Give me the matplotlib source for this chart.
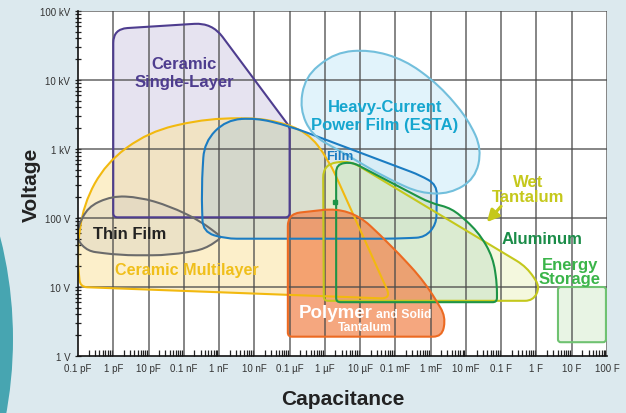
import numpy as np
import matplotlib
matplotlib.use("Agg")
import matplotlib.pyplot as plt
from matplotlib.path import Path
from matplotlib.patches import PathPatch, Circle
from matplotlib.transforms import IdentityTransform

# ---------------- axis ticks ----------------
cap_ticks = 10.0 ** np.arange(-13, 3)
cap_labels = ['0.1 pF', '1 pF', '10 pF', '0.1 nF', '1 nF', '10 nF', '0.1 µF', '1 µF',
              '10 µF', '0.1 mF', '1 mF', '10 mF', '0.1 F', '1 F', '10 F', '100 F']
volt_ticks = 10.0 ** np.arange(0, 6)
volt_labels = ['1 V', '10 V', '100 V', '1 kV', '10 kV', '100 kV']

# ---------------- regions: log10(capacitance / F), log10(voltage / V) ----------------
single_layer_c = [-12.0, -12.0, -9.2, -7.0, -7.0]
single_layer_v = [2.01, 4.74, 4.83, 3.32, 2.01]

multilayer_c = [-12.94, -13.03, -12.85, -12.2, -11.0, -9.3, -7.6, -6.5, -5.9, -4.12]
multilayer_v = [1.0, 1.5, 2.2, 2.8, 3.25, 3.45, 3.44, 3.25, 2.85, 0.83]

thin_film_c = [-13.0, -12.72, -12.04, -11.24, -10.39, -9.54, -8.92, -9.40, -10.39, -11.81, -12.72, -13.02]
thin_film_v = [1.87, 2.16, 2.32, 2.30, 2.17, 1.96, 1.72, 1.55, 1.46, 1.46, 1.52, 1.68]

film_c = [-9.50, -9.42, -8.80, -7.95, -6.99, -3.30, -2.82, -2.84, -3.16, -4.01, -8.83, -9.46]
film_v = [2.42, 3.10, 3.42, 3.45, 3.33, 2.62, 2.48, 1.91, 1.72, 1.70, 1.70, 1.80]

esta_c = [-6.71, -6.56, -5.71, -4.72, -3.73, -2.74, -1.94, -1.55, -1.74, -2.45, -3.30, -4.30, -5.43, -6.37]
esta_v = [3.58, 4.05, 4.40, 4.44, 4.29, 3.92, 3.43, 3.00, 2.57, 2.35, 2.36, 2.59, 2.93, 3.20]

wet_tant_c = [-6.05, -5.29, -0.27, 0.10, -0.10, -6.03]
wet_tant_v = [2.78, 2.83, 1.29, 1.00, 0.80, 0.80]

aluminum_c = [-5.68, -5.23, -3.02, -2.40, -1.66, -1.23, -1.12, -1.12, -5.68]
aluminum_v = [2.78, 2.81, 2.22, 2.14, 1.81, 1.43, 1.04, 0.78, 0.78]

polymer_c = [-7.05, -5.29, -4.15, -3.16, -2.57, -2.68, -7.05]
polymer_v = [2.06, 2.16, 1.62, 1.07, 0.57, 0.28, 0.28]

energy_c = [0.61, 1.97, 1.97, 0.61]
energy_v = [1.00, 1.00, 0.20, 0.20]

# ---------------- styling (corner rounding, colours) ----------------
K = 1.96  # display aspect of one voltage decade vs. one capacitance decade
R = 9.0   # "fully smooth"
single_layer_r = [0.12, 0.4, 0.5, 0.1, 0.12]
multilayer_r = [0.2, R, R, R, R, R, R, R, 0.6, 0.3]
thin_film_r = [R, R, R, R, R, R, 0.15, R, R, R, R, R]
film_r = [R, R, R, R, 0.6, 0.4, 0.5, R, R, R, 0.5, 0.5]
esta_r = [R] * len(esta_c)
wet_tant_r = [0.4, 0.3, 0.35, 0.3, 0.3, 0.12]
aluminum_r = [0.25, 0.2, 0.3, 0.3, R, R, 0.3, 0.12, 0.12]
polymer_r = [0.35, R, R, R, 0.4, 0.25, 0.12]
energy_r = [0.08] * 4


def region_path(lc, lv, radii):
    P = np.column_stack([np.asarray(lc, float), np.asarray(lv, float) * K])
    n = len(P)
    verts, codes = [], []
    for i in range(n):
        p0, p1, p2 = P[i - 1], P[i], P[(i + 1) % n]
        d0, d2 = p0 - p1, p2 - p1
        l0, l2 = np.hypot(*d0), np.hypot(*d2)
        rr = min(radii[i], l0 / 2, l2 / 2)
        a = p1 + d0 / l0 * rr
        b = p1 + d2 / l2 * rr
        verts.append(a)
        codes.append(Path.MOVETO if i == 0 else Path.LINETO)
        verts += [p1, b]
        codes += [Path.CURVE3, Path.CURVE3]
    verts.append(verts[0])
    codes.append(Path.CLOSEPOLY)
    V = np.array(verts)
    V[:, 0] = 10 ** V[:, 0]
    V[:, 1] = 10 ** (V[:, 1] / K)
    return Path(V, codes)


regions = [
    (single_layer_c, single_layer_v, single_layer_r, '#4e3d8f', '#c8c2de', 0.45),
    (multilayer_c, multilayer_v, multilayer_r, '#f2b90f', '#fbe3a0', 0.55),
    (thin_film_c, thin_film_v, thin_film_r, '#6b6b6b', '#cfcac0', 0.35),
    (film_c, film_v, film_r, '#1b7cc2', '#a9c6d6', 0.4),
    (esta_c, esta_v, esta_r, '#72bfdc', '#d8effa', 0.75),
    (wet_tant_c, wet_tant_v, wet_tant_r, '#c4c81c', '#eef4c8', 0.6),
    (aluminum_c, aluminum_v, aluminum_r, '#1d9447', '#c7e2c8', 0.55),
    (polymer_c, polymer_v, polymer_r, '#ec6a22', '#f2854e', 0.72),
    (energy_c, energy_v, energy_r, '#6fc271', '#e6f3e2', 0.9),
]

# ---------------- figure ----------------
fig = plt.figure(figsize=(6.26, 4.14), dpi=100)
fig.patch.set_facecolor('#dce9ee')
fig.add_artist(Circle((-401.5, 74), 414.5, transform=IdentityTransform(),
                      facecolor='#47a5b1', edgecolor='none', zorder=0))

ax = fig.add_axes([78 / 626, 1 - 357 / 414, (607 - 78) / 626, (357 - 12) / 414])
ax.set_facecolor('white')
ax.set_xscale('log')
ax.set_yscale('log')
ax.set_xlim(1e-13, 1e2)
ax.set_ylim(1, 1e5)

for lc, lv, rad, ec, fc, al in regions:
    p = region_path(lc, lv, rad)
    ax.add_patch(PathPatch(p, facecolor=fc, edgecolor='none', alpha=al, zorder=1))
    ax.add_patch(PathPatch(p, facecolor='none', edgecolor=ec, lw=1.5, zorder=3))

# grid
for xv in cap_ticks[1:]:
    ax.axvline(xv, color='#4a4a4a', lw=1.1, zorder=2, alpha=0.85)
for yv in volt_ticks[1:]:
    ax.axhline(yv, color='#4a4a4a', lw=1.1, zorder=2, alpha=0.85)

for s in ['top', 'right']:
    ax.spines[s].set_visible(False)
for s in ['left', 'bottom']:
    ax.spines[s].set_color('#111111')
    ax.spines[s].set_linewidth(1.2)
    ax.spines[s].set_zorder(4)

tick_font = ['Liberation Sans Narrow', 'Liberation Sans', 'DejaVu Sans']
ax.set_xticks(cap_ticks)
ax.set_xticklabels(cap_labels, family=tick_font, fontsize=7, color='#333333')
ax.set_yticks(volt_ticks)
ax.set_yticklabels(volt_labels, family=tick_font, fontsize=7, color='#333333')
ax.xaxis.set_minor_locator(matplotlib.ticker.LogLocator(base=10, subs=np.arange(2, 10), numticks=30))
ax.yaxis.set_minor_locator(matplotlib.ticker.LogLocator(base=10, subs=np.arange(2, 10), numticks=30))
ax.xaxis.set_minor_formatter(matplotlib.ticker.NullFormatter())
ax.yaxis.set_minor_formatter(matplotlib.ticker.NullFormatter())
ax.tick_params(axis='x', which='major', length=0, pad=5)
ax.tick_params(axis='x', which='minor', direction='in', length=4, width=0.9, color='#222')
ax.tick_params(axis='y', which='major', direction='inout', length=5, width=0.9, pad=3, color='#222')
ax.tick_params(axis='y', which='minor', direction='inout', length=5, width=0.9, color='#222')

# ---------------- labels ----------------
lab_font = ['Liberation Sans', 'DejaVu Sans']
def lab(x, y, s, color, size=12, ls=1.15, **kw):
    ax.text(10 ** x, 10 ** y, s, color=color, fontsize=size, fontweight='bold',
            family=lab_font, ha=kw.pop('ha', 'center'), va=kw.pop('va', 'center'),
            linespacing=ls, zorder=6, **kw)

lab(-9.99, 4.11, 'Ceramic\nSingle-Layer', '#4e3d8f', ls=1.25)
lab(-4.30, 3.49, 'Heavy-Current\nPower Film (ESTA)', '#16a6cf', ls=1.25)
lab(-5.57, 2.90, 'Film', '#1b7cc2', size=9.5)
lab(-11.53, 1.77, 'Thin Film', '#222222')
lab(-9.91, 1.25, 'Ceramic Multilayer', '#f0bf1a', size=11.6)
lab(-6.73, 0.565, 'Polymer', 'white', size=13.5, ha='left', va='baseline')
lab(-4.55, 0.565, 'and Solid', 'white', size=8.8, ha='left', va='baseline')
lab(-4.86, 0.42, 'Tantalum', 'white', size=8.8)
lab(-0.24, 2.42, 'Wet\nTantalum', '#c5c81b', ls=0.95)
lab(0.16, 1.70, 'Aluminum', '#1a8c48')
lab(0.95, 1.23, 'Energy\nStorage', '#3bb54a', ls=0.9)

ax.annotate('', xy=(10 ** -1.46, 10 ** 1.91), xytext=(10 ** -0.95, 10 ** 2.20),
            arrowprops=dict(arrowstyle='-|>,head_width=0.35,head_length=0.7',
                            color='#c5c81b', lw=2.2), zorder=6)
ax.plot([10 ** -5.71], [10 ** 2.23], marker='s', ms=2.5, color='#1d9447', zorder=5)

fig.text(31 / 626, 1 - 185 / 414, 'Voltage', rotation=90, ha='center', va='center',
         fontsize=15, fontweight='bold', family=lab_font, color='#222222')
fig.text(343 / 626, 1 - 400 / 414, 'Capacitance', ha='center', va='center',
         fontsize=15, fontweight='bold', family=lab_font, color='#222222')

fig.savefig('out.png', dpi=100, facecolor=fig.get_facecolor())
